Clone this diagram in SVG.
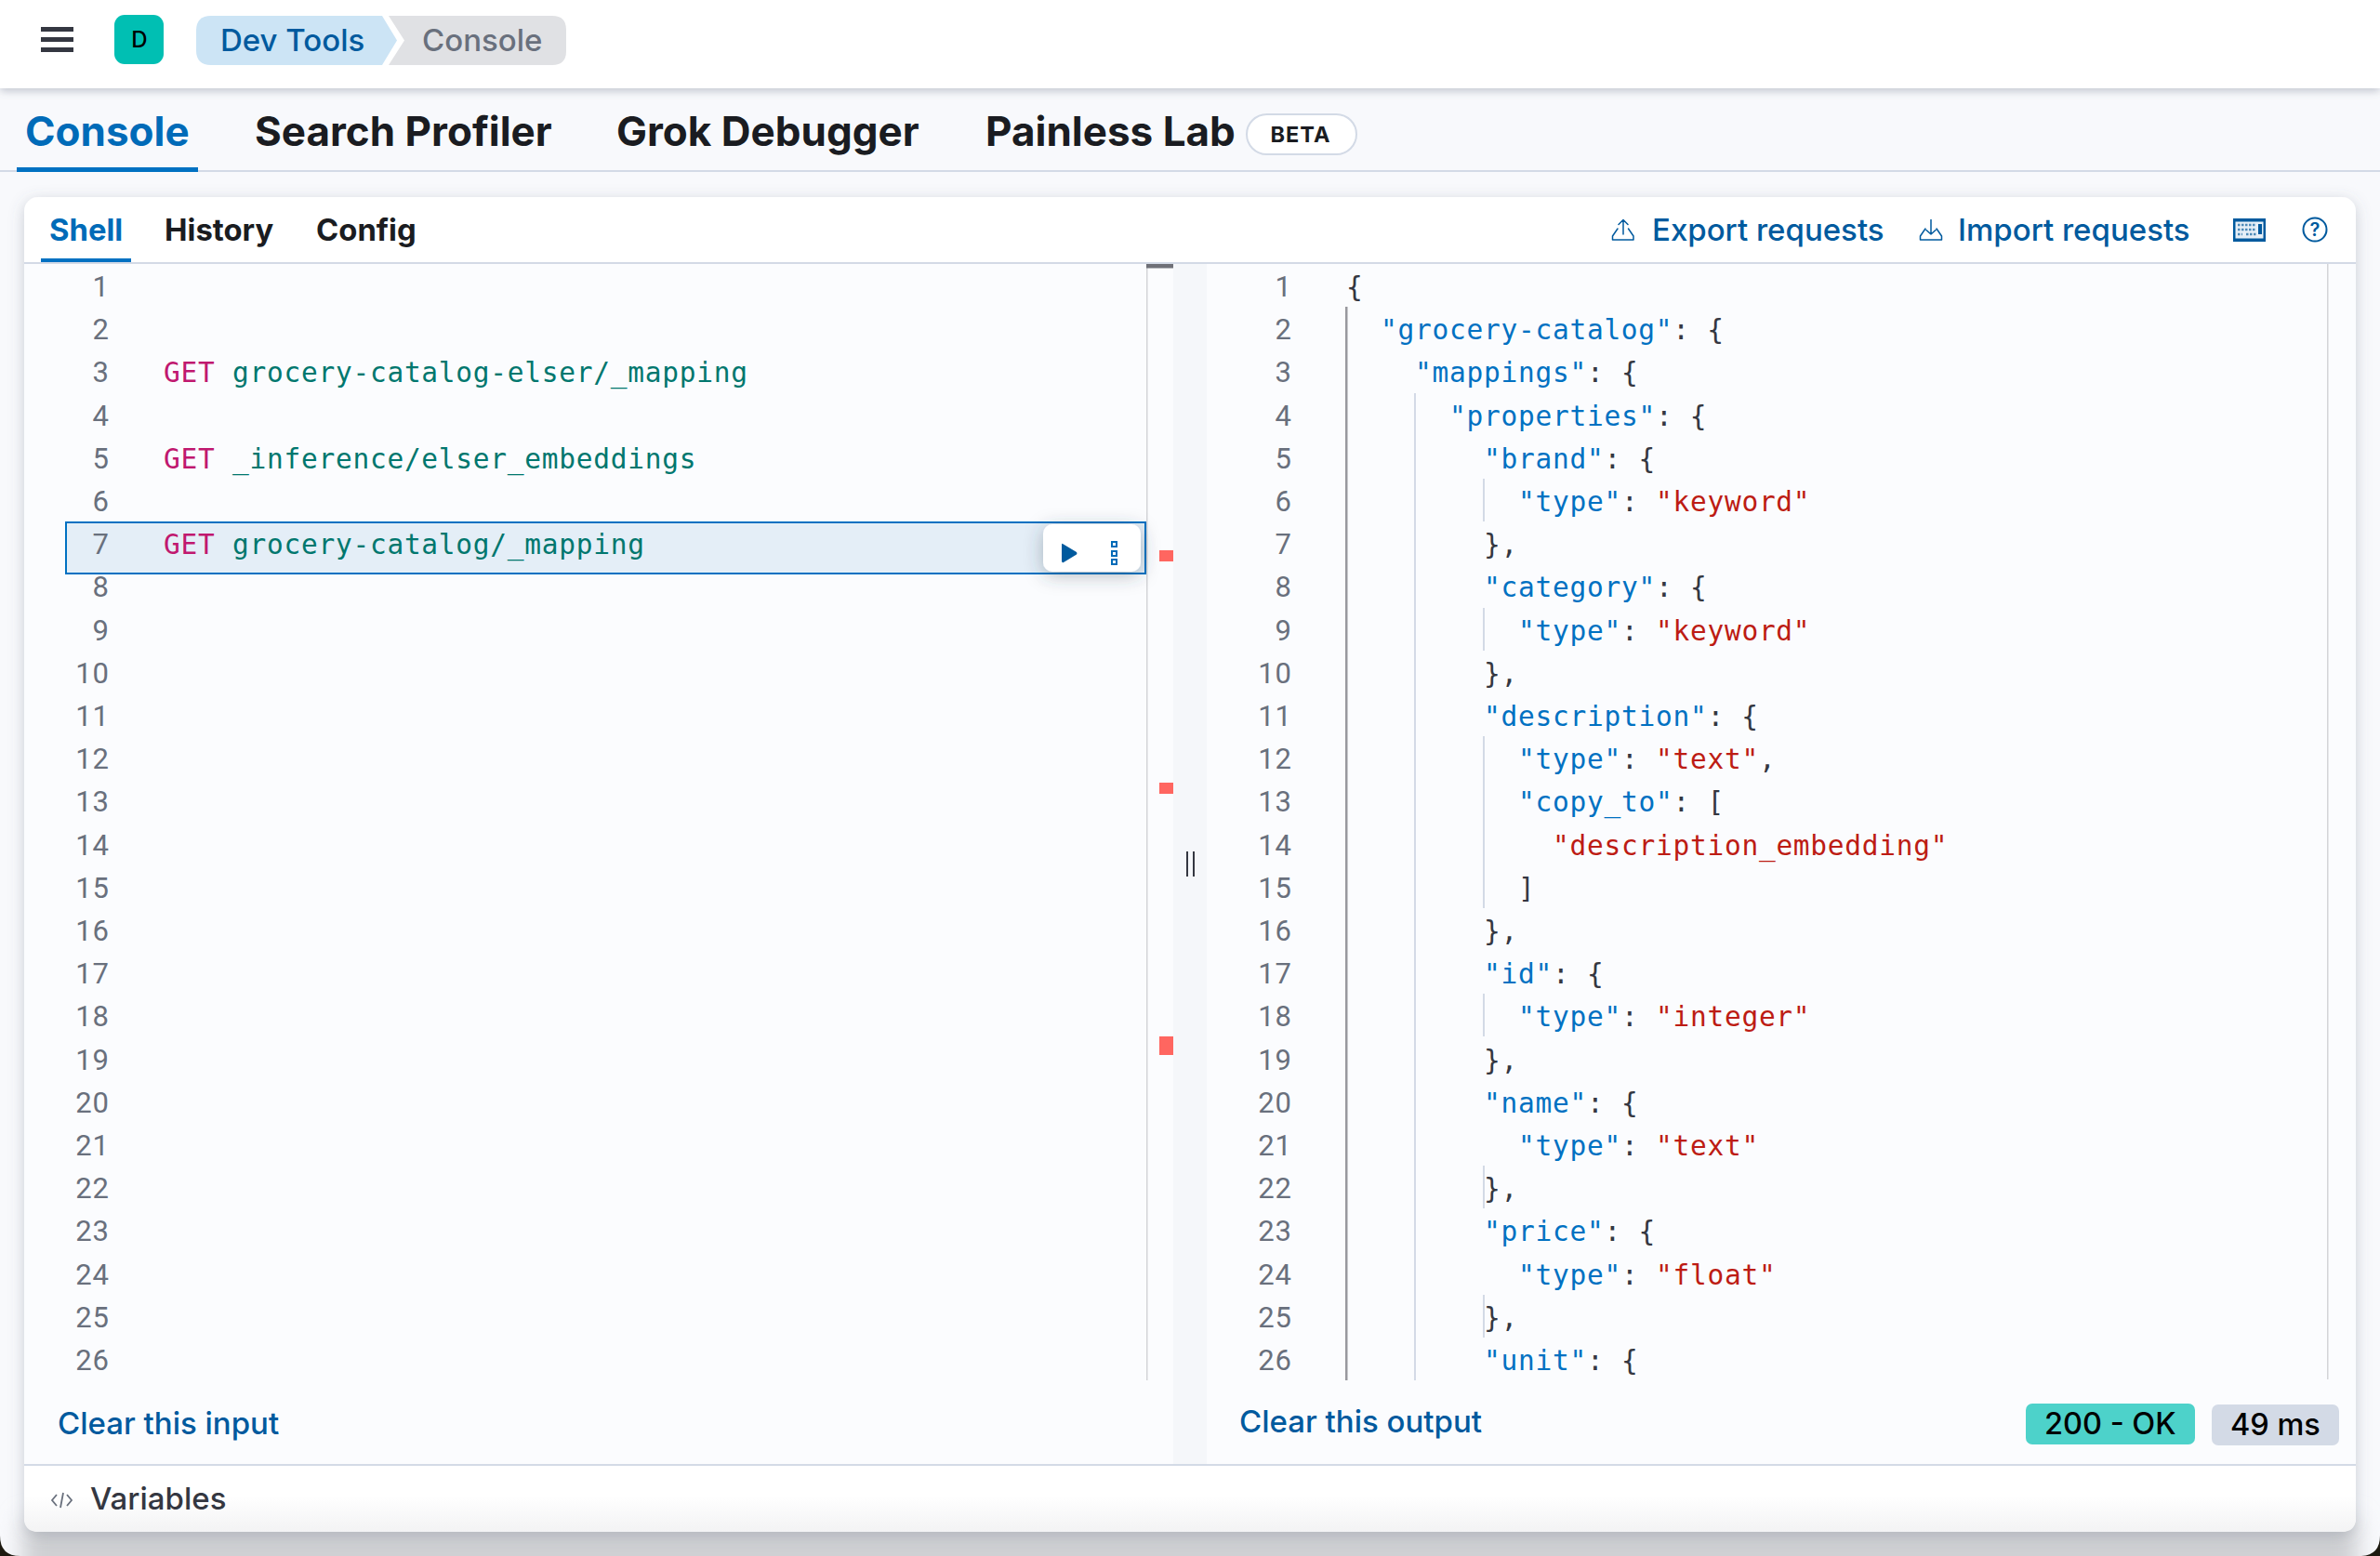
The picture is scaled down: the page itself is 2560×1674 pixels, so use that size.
<svg xmlns="http://www.w3.org/2000/svg" width="2560" height="1674" viewBox="0 0 2560 1674">
<style>
text{font-family:"Inter","Liberation Sans",sans-serif;white-space:pre}
.t{font-size:44px;font-weight:700;fill:#1a1c21}
.s{font-size:32.800px;font-weight:700;fill:#1a1c21}
.l{font-size:33px;font-weight:500;fill:#005a9e}
.b{font-size:32.500px;font-weight:500;fill:#000}
.n{font-family:"Roboto","Liberation Sans",sans-serif;font-size:31px;fill:#69707d;text-anchor:end;letter-spacing:1px}
.c{font-family:"DejaVu Sans Mono","Liberation Mono",monospace;font-size:29.5px;letter-spacing:.73px;fill:#343741}
.k{fill:#0071c2}.v{fill:#bd1c14}.m{fill:#c0186f}.p{fill:#00776e}
.g{stroke:#d3dae6;stroke-width:2;fill:none}
.i{stroke:#005a9e;stroke-width:1.500;fill:none;stroke-linecap:round;stroke-linejoin:round}
.red{fill:#ff6660}
</style>
<defs>
<filter id="sh" x="-5%" y="-5%" width="110%" height="115%"><feDropShadow dx="0" dy="4" stdDeviation="8" flood-color="#5a6478" flood-opacity=".3"/></filter>
<filter id="hs" x="-5%" y="-50%" width="110%" height="250%"><feDropShadow dx="0" dy="3" stdDeviation="5" flood-color="#5a6478" flood-opacity=".35"/></filter>
<filter id="as" x="-40%" y="-60%" width="180%" height="220%"><feDropShadow dx="0" dy="4" stdDeviation="10" flood-color="#384050" flood-opacity=".35"/></filter>
<filter id="bl" x="-5%" y="-50%" width="110%" height="200%"><feGaussianBlur stdDeviation="12"/></filter>
<linearGradient id="fg" x1="0" y1="0" x2="0" y2="1"><stop offset=".45" stop-color="#fff"/><stop offset="1" stop-color="#f3f3f4"/></linearGradient>
</defs>

<rect width="2560" height="1674" fill="#f8f9fc"/>
<rect x="24" y="1634" width="2512" height="90" fill="#cfd0d3" filter="url(#bl)"/>
<path id="corner-left" d="M0 1652V1674H22Q0 1674 0 1652Z" fill="#1d1a10"/>
<path id="corner-right" d="M2560 1652V1674H2538Q2560 1674 2560 1652Z" fill="#1d1a10"/>

<g id="top-bar">
<rect width="2560" height="95" fill="#fff" filter="url(#hs)"/>
<g fill="#343741"><rect x="44" y="29" width="35" height="5"/><rect x="44" y="40" width="35" height="5"/><rect x="44" y="51" width="35" height="5"/></g>
<rect x="123" y="16" width="53" height="53" rx="11" fill="#00bfb3"/>
<text x="150" y="51" font-size="24" font-weight="500" text-anchor="middle" fill="#000">D</text>
<path d="M227 17H411L427 43.500L411 70H227Q211 70 211 54V33Q211 17 227 17Z" fill="#cce4f5"/>
<text x="237" y="55" font-size="33" font-weight="500" fill="#005a9e">Dev Tools</text>
<path d="M418 17H594Q609 17 609 32V55Q609 70 594 70H418L435 43.500Z" fill="#e0e1e4"/>
<text x="454" y="55" font-size="33" font-weight="500" fill="#69707d">Console</text>
</g>

<g id="app-tabs">
<rect x="0" y="183" width="2560" height="2" fill="#d3dae6"/>
<rect x="18" y="180" width="195" height="5" fill="#0071c2"/>
<text class="t" x="27" y="157" style="fill:#006bb8">Console</text>
<text class="t" x="274" y="157">Search Profiler</text>
<text class="t" x="663" y="157">Grok Debugger</text>
<text class="t" x="1060" y="157">Painless Lab</text>
<rect x="1341" y="123" width="118" height="43" rx="21.500" fill="#fff" stroke="#d3dae6" stroke-width="2"/>
<text x="1399" y="153" font-size="23.500" font-weight="700" text-anchor="middle" fill="#1a1c21" letter-spacing="1">BETA</text>
</g>

<g id="console-panel">
<rect x="26" y="212" width="2508" height="1436" rx="15" fill="#fff" filter="url(#sh)"/>
<path d="M26 284H2534V1575H26Z" fill="#fbfcfe"/>
<path d="M26 1577H2534V1633Q2534 1648 2519 1648H41Q26 1648 26 1633Z" fill="url(#fg)"/>
<rect x="26" y="282" width="2508" height="2" fill="#d3dae6"/>
<rect x="26" y="1575" width="2508" height="2" fill="#d3dae6"/>
<rect x="44" y="278" width="97" height="4" fill="#0071c2"/>
<text class="s" x="53" y="259" style="fill:#006bb8">Shell</text>
<text class="s" x="177" y="259">History</text>
<text class="s" x="340" y="259">Config</text>
</g>

<g id="toolbar-actions">
<path class="i" d="M1740 246L1734.500 254V258H1757V254L1751.500 246M1746 252V236.500M1741 241.500L1746 236.500L1751 241.500"/>
<text class="l" x="1777" y="259">Export requests</text>
<path class="i" d="M2071 246L2065.500 254V258H2088.500V254L2083 246M2077 236.500V252M2072 247.500L2077 252L2082 247.500"/>
<text class="l" x="2106" y="259">Import requests</text>
<rect x="2402" y="235" width="35" height="25" fill="#005a9e"/>
<rect x="2404.500" y="238.500" width="30" height="18" fill="#e6eff7"/>
<path d="M2407 242H2427M2407 247H2427M2407 252H2412M2416 252H2427" stroke="#4d8ab8" stroke-width="2.500" stroke-dasharray="2.500 1.500" fill="none"/>
<rect x="2429" y="241" width="4" height="11" fill="#005a9e"/>
<circle cx="2490" cy="247" r="12.500" fill="none" stroke="#005a9e" stroke-width="2"/>
<text x="2490" y="254" font-size="20" font-weight="600" text-anchor="middle" fill="#005a9e">?</text>
</g>

<g id="divider">
<rect x="1233" y="284" width="1.500" height="1201" fill="#d3d4d8"/>
<rect x="1233" y="284" width="29" height="4.500" fill="#6f7077"/>
<rect x="1262" y="284" width="36" height="1291" fill="#f5f7fa"/>
<rect class="red" x="1247" y="592" width="15" height="12"/>
<rect class="red" x="1247" y="842" width="15" height="12"/>
<rect class="red" x="1247" y="1115" width="15" height="20"/>
<path d="M1277 916V943M1284 916V943" stroke="#343741" stroke-width="2" fill="none"/>
<rect x="2503" y="284" width="1.500" height="1200" fill="#d3d4d8"/>
</g>

<g id="selected-row">
<rect x="71" y="562" width="1161" height="55" fill="#e4eef7" stroke="#0071c2" stroke-width="2"/>
<rect x="1122" y="564" width="105" height="51" rx="10" fill="#fff" filter="url(#as)"/>
<path d="M1143 585Q1142 584 1142 587V603Q1142 606 1144 605L1158 596.500Q1159 595 1158 594Z" fill="#005a9e"/>
<g fill="none" stroke="#006bb8" stroke-width="2"><rect x="1196" y="583" width="5" height="5"/><rect x="1196" y="593" width="5" height="5"/><rect x="1196" y="602" width="5" height="5"/></g>
</g>

<g id="line-numbers-input" transform="translate(0 1)">
<text class="n" x="118" y="318">1</text><text class="n" x="118" y="364.200">2</text><text class="n" x="118" y="410.400">3</text><text class="n" x="118" y="456.600">4</text><text class="n" x="118" y="502.800">5</text><text class="n" x="118" y="549">6</text><text class="n" x="118" y="595.200">7</text><text class="n" x="118" y="641.400">8</text><text class="n" x="118" y="687.600">9</text><text class="n" x="118" y="733.800">10</text><text class="n" x="118" y="780">11</text><text class="n" x="118" y="826.200">12</text><text class="n" x="118" y="872.400">13</text><text class="n" x="118" y="918.600">14</text><text class="n" x="118" y="964.800">15</text><text class="n" x="118" y="1011">16</text><text class="n" x="118" y="1057.200">17</text><text class="n" x="118" y="1103.400">18</text><text class="n" x="118" y="1149.600">19</text><text class="n" x="118" y="1195.800">20</text><text class="n" x="118" y="1242">21</text><text class="n" x="118" y="1288.200">22</text><text class="n" x="118" y="1334.400">23</text><text class="n" x="118" y="1380.600">24</text><text class="n" x="118" y="1426.800">25</text><text class="n" x="118" y="1473">26</text>
</g>
<g id="input-code" transform="translate(0 1)">
<text class="c" x="176" y="410.400"><tspan class="m">GET</tspan><tspan class="p"> grocery-catalog-elser/_mapping</tspan></text>
<text class="c" x="176" y="502.800"><tspan class="m">GET</tspan><tspan class="p"> _inference/elser_embeddings</tspan></text>
<text class="c" x="176" y="595.200"><tspan class="m">GET</tspan><tspan class="p"> grocery-catalog/_mapping</tspan></text>
</g>

<g id="line-numbers-output" transform="translate(0 1)">
<text class="n" x="1390" y="318">1</text><text class="n" x="1390" y="364.200">2</text><text class="n" x="1390" y="410.400">3</text><text class="n" x="1390" y="456.600">4</text><text class="n" x="1390" y="502.800">5</text><text class="n" x="1390" y="549">6</text><text class="n" x="1390" y="595.200">7</text><text class="n" x="1390" y="641.400">8</text><text class="n" x="1390" y="687.600">9</text><text class="n" x="1390" y="733.800">10</text><text class="n" x="1390" y="780">11</text><text class="n" x="1390" y="826.200">12</text><text class="n" x="1390" y="872.400">13</text><text class="n" x="1390" y="918.600">14</text><text class="n" x="1390" y="964.800">15</text><text class="n" x="1390" y="1011">16</text><text class="n" x="1390" y="1057.200">17</text><text class="n" x="1390" y="1103.400">18</text><text class="n" x="1390" y="1149.600">19</text><text class="n" x="1390" y="1195.800">20</text><text class="n" x="1390" y="1242">21</text><text class="n" x="1390" y="1288.200">22</text><text class="n" x="1390" y="1334.400">23</text><text class="n" x="1390" y="1380.600">24</text><text class="n" x="1390" y="1426.800">25</text><text class="n" x="1390" y="1473">26</text>
</g>
<g id="indent-guides">
<rect x="1447" y="330" width="2.500" height="1155" fill="#98989e"/>
<path class="g" d="M1522 423V1485M1596 515V561M1596 654V700M1596 792V977M1596 1069V1115M1596 1254V1300M1596 1393V1439"/>
</g>
<g id="output-code" transform="translate(0 1)">
<text class="c" x="1448" y="318">{</text>
<text class="c" x="1485" y="364.200"><tspan class="k">"grocery-catalog"</tspan>: {</text>
<text class="c" x="1522" y="410.400"><tspan class="k">"mappings"</tspan>: {</text>
<text class="c" x="1559" y="456.600"><tspan class="k">"properties"</tspan>: {</text>
<text class="c" x="1596" y="502.800"><tspan class="k">"brand"</tspan>: {</text>
<text class="c" x="1633" y="549"><tspan class="k">"type"</tspan>: <tspan class="v">"keyword"</tspan></text>
<text class="c" x="1596" y="595.200">},</text>
<text class="c" x="1596" y="641.400"><tspan class="k">"category"</tspan>: {</text>
<text class="c" x="1633" y="687.600"><tspan class="k">"type"</tspan>: <tspan class="v">"keyword"</tspan></text>
<text class="c" x="1596" y="733.800">},</text>
<text class="c" x="1596" y="780"><tspan class="k">"description"</tspan>: {</text>
<text class="c" x="1633" y="826.200"><tspan class="k">"type"</tspan>: <tspan class="v">"text"</tspan>,</text>
<text class="c" x="1633" y="872.400"><tspan class="k">"copy_to"</tspan>: [</text>
<text class="c" x="1670" y="918.600"><tspan class="v">"description_embedding"</tspan></text>
<text class="c" x="1633" y="964.800">]</text>
<text class="c" x="1596" y="1011">},</text>
<text class="c" x="1596" y="1057.200"><tspan class="k">"id"</tspan>: {</text>
<text class="c" x="1633" y="1103.400"><tspan class="k">"type"</tspan>: <tspan class="v">"integer"</tspan></text>
<text class="c" x="1596" y="1149.600">},</text>
<text class="c" x="1596" y="1195.800"><tspan class="k">"name"</tspan>: {</text>
<text class="c" x="1633" y="1242"><tspan class="k">"type"</tspan>: <tspan class="v">"text"</tspan></text>
<text class="c" x="1596" y="1288.200">},</text>
<text class="c" x="1596" y="1334.400"><tspan class="k">"price"</tspan>: {</text>
<text class="c" x="1633" y="1380.600"><tspan class="k">"type"</tspan>: <tspan class="v">"float"</tspan></text>
<text class="c" x="1596" y="1426.800">},</text>
<text class="c" x="1596" y="1473"><tspan class="k">"unit"</tspan>: {</text>
</g>

<g id="footer">
<text class="l" x="62" y="1543">Clear this input</text>
<text class="l" x="1333" y="1541">Clear this output</text>
<rect x="2179" y="1510" width="182" height="44" rx="7" fill="#4dd2ca"/>
<text class="b" x="2199" y="1543">200 - OK</text>
<rect x="2379" y="1511" width="137" height="44" rx="7" fill="#d3dae6"/>
<text class="b" x="2399" y="1544">49 ms</text>
<path d="M61 1608L56 1614L61 1620M72 1608L77 1614L72 1620M68 1606L65 1622" fill="none" stroke="#69707d" stroke-width="1.800"/>
<text x="97" y="1624" font-size="33" font-weight="500" fill="#343741">Variables</text>
</g>
</svg>
